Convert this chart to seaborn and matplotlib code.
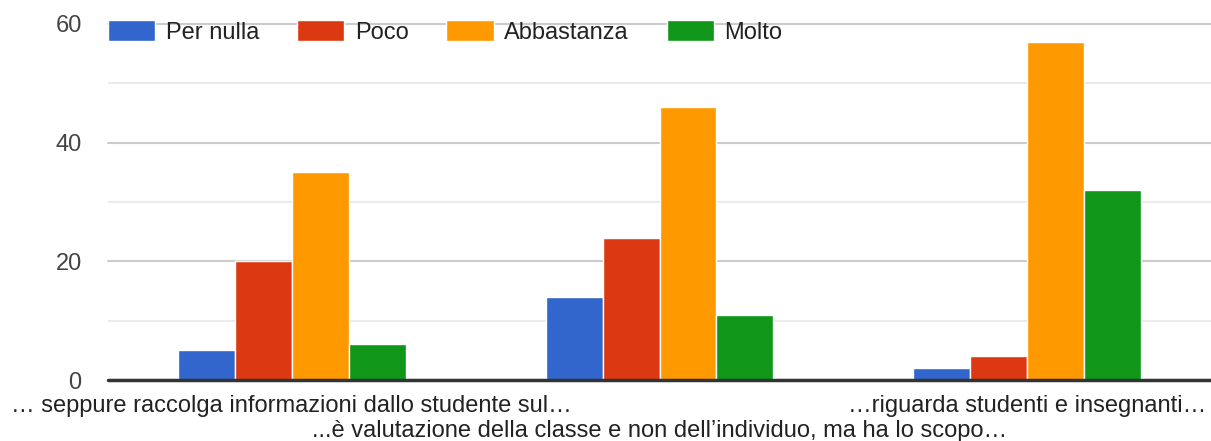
import pandas as pd
import seaborn as sns
import matplotlib.pyplot as plt

# dati
domande = ["… seppure raccolga informazioni dallo studente sul…",
           "...è valutazione della classe e non dell’individuo, ma ha lo scopo…",
           "…riguarda studenti e insegnanti…"]
risposte = ["Per nulla", "Poco", "Abbastanza", "Molto"]
per_nulla = [5, 14, 2]
poco = [20, 24, 4]
abbastanza = [35, 46, 57]
molto = [6, 11, 32]
colori = ["#3366cc", "#dc3912", "#ff9900", "#109618"]

rows = []
for r, vals in zip(risposte, [per_nulla, poco, abbastanza, molto]):
    for d, v in zip(domande, vals):
        rows.append({"domanda": d, "risposta": r, "n": v})
df = pd.DataFrame(rows)

sns.set_style("white")
plt.rcParams['font.family'] = ['Liberation Sans', 'DejaVu Sans']

fig = plt.figure(figsize=(12.11, 4.41), dpi=100)
ax = fig.add_axes([0.0892, 0.1383, 0.9108, 0.8073])

sns.barplot(data=df, x="domanda", y="n", hue="risposta", order=domande,
            hue_order=risposte, palette=colori, width=0.62, gap=0,
            edgecolor="white", linewidth=1, saturation=1, ax=ax, zorder=3)

ax.set_xlim(-0.5, 2.5)
ax.set_ylim(0, 60)
ax.set_yticks([0, 20, 40, 60])
ax.set_yticks([10, 30, 50], minor=True)
ax.grid(axis="y", which="major", color="#cccccc", linewidth=1.5, zorder=0)
ax.grid(axis="y", which="minor", color="#ebebeb", linewidth=1.5, zorder=0)
for gl in ax.get_ygridlines():
    gl.set_clip_on(False)
ax.axhline(0, color="#333333", linewidth=2.5, zorder=4, clip_on=False)
for s in ax.spines.values():
    s.set_visible(False)

ax.tick_params(axis="y", length=0, pad=19, labelsize=17, labelcolor="#444444")
ax.tick_params(axis="x", length=0, pad=11, labelsize=17, labelcolor="#222222")
ax.set_xticks(range(3))
ax.set_xticklabels(domande)
ax.set_xlabel("")
ax.set_ylabel("")
# etichetta centrale sulla seconda riga
ax.xaxis.get_major_ticks()[1].set_pad(28.5)

ax.legend(loc="upper left", bbox_to_anchor=(0.0, 1.01), ncol=4, frameon=False,
          fontsize=17, handlelength=2.0, handleheight=0.95, handletextpad=0.45,
          columnspacing=1.6, borderaxespad=0, borderpad=0, labelcolor="#222222")

fig.savefig("out.png", dpi=100)
